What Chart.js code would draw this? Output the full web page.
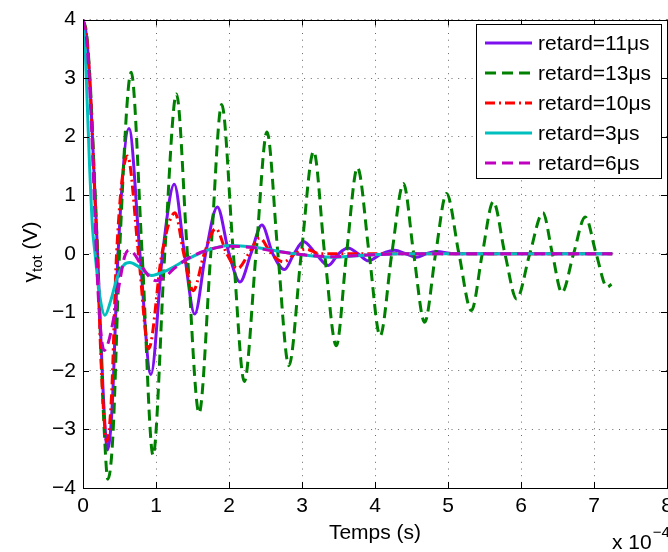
<!DOCTYPE html>
<html>
<head>
<meta charset="utf-8">
<script src="https://cdn.jsdelivr.net/npm/chart.js@4/dist/chart.umd.min.js"></script>
<style>
html,body{margin:0;padding:0;overflow:hidden;background:#fff;}
#c{display:block;}
</style>
</head>
<body>
<canvas id="c" width="700" height="552" style="width:700px;height:552px"></canvas>
<script>
// ---- data (time in units of 1e-4 s, voltage in V) ----
const xTicks = [0, 1, 2, 3, 4, 5, 6, 7, 8];
const yTicks = [-4, -3, -2, -1, 0, 1, 2, 3, 4];
const seriesNames = ['retard=11\u03bcs', 'retard=13\u03bcs', 'retard=10\u03bcs', 'retard=3\u03bcs', 'retard=6\u03bcs'];

const t11 = [0,0.05,0.10,0.15,0.20,0.25,0.29,0.335,0.40,0.48,0.63,0.78,0.93,1.09,1.25,1.39,1.53,1.68,1.84,2.00,2.15,2.30,2.45,2.60,2.76,2.89,3.02,3.19,3.36,3.50,3.63,3.77,3.91,4.09,4.27,4.42,4.57,4.70,4.84,5.10,7.25];
const v11 = [4,3.7,2.8,1.4,0,-1.6,-2.7,-3.35,-2.6,0,2.14,0,-2.06,0,1.19,0,-1.03,0,0.80,0,-0.48,0,0.49,0,-0.27,0,0.21,0,-0.20,0,0.10,0,-0.12,0,0.06,0,-0.06,0,0.04,0,0];

const t13 = [0,0.05,0.10,0.15,0.20,0.25,0.29,0.34,0.41,0.50,0.66,0.81,0.96,1.12,1.28,1.43,1.59,1.75,1.90,2.06,2.21,2.37,2.52,2.67,2.82,2.99,3.16,3.31,3.47,3.61,3.76,3.92,4.07,4.23,4.39,4.53,4.68,4.83,4.98,5.15,5.32,5.47,5.62,5.78,5.94,6.12,6.30,6.43,6.56,6.72,6.88,7.03,7.18,7.24];
const v13 = [4,3.75,2.9,1.5,0,-1.8,-3.0,-3.85,-3.1,0,3.10,0,-3.44,0,2.73,0,-2.72,0,2.55,0,-2.18,0,2.08,0,-1.91,0,1.75,0,-1.57,0,1.47,0,-1.40,0,1.20,0,-1.17,0,1.03,0,-0.97,0,0.89,0,-0.77,0,0.70,0,-0.66,0,0.63,0,-0.57,-0.52];

const t10 = [0,0.05,0.10,0.15,0.195,0.24,0.28,0.325,0.39,0.46,0.61,0.76,0.90,1.08,1.26,1.38,1.51,1.66,1.82,1.97,2.12,2.27,2.42,2.58,2.75,2.90,3.05,3.25,7.25];
const v10 = [4,3.7,2.8,1.35,0,-1.6,-2.65,-3.2,-2.45,0,1.67,0,-1.62,0,0.70,0,-0.63,0,0.43,0,-0.25,0,0.27,0,-0.14,0,0.08,0,0];

const t3 = [0,0.03,0.06,0.09,0.13,0.165,0.23,0.30,0.38,0.47,0.56,0.64,0.75,0.94,1.12,1.42,1.70,2.02,2.35,2.60,2.90,3.40,3.90,4.40,7.25];
const v3 = [4,3.5,2.5,1.5,0.45,0,-0.72,-1.05,-0.8,-0.4,-0.19,-0.15,-0.21,-0.37,-0.3,-0.1,0.06,0.14,0.11,0.06,0.0,-0.06,-0.02,0,0];

const t6 = [0,0.05,0.10,0.15,0.20,0.245,0.29,0.35,0.42,0.50,0.57,0.63,0.70,0.80,0.90,1.00,1.12,1.25,1.45,1.70,2.00,2.30,2.60,2.90,3.40,3.90,4.40,7.25];
const v6 = [4,3.65,2.65,1.1,-0.5,-1.35,-1.65,-1.5,-1.1,-0.5,-0.05,0.06,0.0,-0.2,-0.38,-0.46,-0.4,-0.25,-0.07,0.06,0.13,0.11,0.05,0.0,-0.05,-0.02,0,0];

// ---- styling ----
const FONT = '"Liberation Sans", Arial, Helvetica, sans-serif';
const pts = (ts, vs) => ts.map((t, i) => ({x: t, y: vs[i]}));

const mk = (label, ts, vs, color, dash, order) => ({
  label, data: pts(ts, vs), borderColor: color, backgroundColor: color,
  borderWidth: 3, borderDash: dash, pointRadius: 0, fill: false,
  cubicInterpolationMode: 'monotone', order
});

const datasets = [
  mk(seriesNames[0], t11, v11, '#7d10ee', [], 5),
  mk(seriesNames[1], t13, v13, '#008000', [11, 6], 4),
  mk(seriesNames[2], t10, v10, '#ff0000', [10, 4, 2, 4], 3),
  mk(seriesNames[3], t3, v3, '#00bfbf', [], 2),
  mk(seriesNames[4], t6, v6, '#bf00bf', [11, 6], 1)
];

const decor = {
  id: 'decor',
  afterDraw(chart) {
    const {ctx, chartArea: a, scales: {x, y}} = chart;
    ctx.save();
    ctx.setLineDash([]);
    ctx.strokeStyle = '#000';
    ctx.lineWidth = 1;
    // inward tick marks on all four sides
    ctx.beginPath();
    xTicks.forEach(v => {
      const px = Math.round(x.getPixelForValue(v)) + 0.5;
      ctx.moveTo(px, a.bottom); ctx.lineTo(px, a.bottom - 6);
      ctx.moveTo(px, a.top); ctx.lineTo(px, a.top + 6);
    });
    yTicks.forEach(v => {
      const py = Math.round(y.getPixelForValue(v)) + 0.5;
      ctx.moveTo(a.left, py); ctx.lineTo(a.left + 6, py);
      ctx.moveTo(a.right, py); ctx.lineTo(a.right - 6, py);
    });
    ctx.stroke();
    // axes box
    ctx.strokeRect(Math.round(a.left) + 0.5, Math.round(a.top) + 0.5,
                   Math.round(a.right - a.left), Math.round(a.bottom - a.top));

    // legend
    const lx = 476, ly = 24, lw = 185, lh = 154;
    ctx.fillStyle = '#fff';
    ctx.fillRect(lx, ly, lw, lh);
    ctx.strokeStyle = '#000';
    ctx.lineWidth = 1;
    ctx.strokeRect(lx + 0.5, ly + 0.5, lw, lh);
    chart.data.datasets.forEach((ds, i) => {
      const yy = 43 + 30 * i;
      ctx.strokeStyle = ds.borderColor;
      ctx.lineWidth = ds.borderWidth;
      ctx.setLineDash(ds.borderDash || []);
      ctx.beginPath(); ctx.moveTo(485, yy); ctx.lineTo(532, yy); ctx.stroke();
      ctx.setLineDash([]);
      ctx.fillStyle = '#000';
      ctx.font = '21px ' + FONT;
      ctx.textAlign = 'left';
      ctx.textBaseline = 'alphabetic';
      ctx.fillText(ds.label, 538, yy + 7);
    });

    // x axis title
    ctx.fillStyle = '#000';
    ctx.font = '21px ' + FONT;
    ctx.textAlign = 'center';
    ctx.textBaseline = 'alphabetic';
    ctx.fillText('Temps (s)', (a.left + a.right) / 2, 539);

    // exponent label
    ctx.textAlign = 'left';
    ctx.font = '21px ' + FONT;
    const base = 'x 10';
    ctx.fillText(base, 612, 549);
    const bw = ctx.measureText(base).width;
    ctx.font = '15px ' + FONT;
    ctx.fillText('\u22124', 612 + bw + 1, 537);

    // y axis title: gamma_tot (V)
    ctx.font = '21px ' + FONT;
    const w1 = ctx.measureText('\u03b3').width;
    const w3 = ctx.measureText(' (V)').width;
    ctx.font = '15px ' + FONT;
    const w2 = ctx.measureText('tot').width;
    const total = w1 + w2 + w3;
    ctx.translate(37, 252 + total / 2);
    ctx.rotate(-Math.PI / 2);
    ctx.textAlign = 'left';
    ctx.font = '21px ' + FONT;
    ctx.fillText('\u03b3', 0, 0);
    ctx.font = '15px ' + FONT;
    ctx.fillText('tot', w1, 5);
    ctx.font = '21px ' + FONT;
    ctx.fillText(' (V)', w1 + w2, 0);
    ctx.restore();
  }
};

const gridCommon = {color: 'rgba(0,0,0,0.6)', lineWidth: 1, drawTicks: false};

new Chart(document.getElementById('c'), {
  type: 'line',
  data: {datasets},
  plugins: [decor],
  options: {
    responsive: false,
    animation: false,
    events: [],
    layout: {padding: {left: 0, top: 18, right: 33, bottom: 0}},
    plugins: {legend: {display: false}, tooltip: {enabled: false}, title: {display: false}},
    scales: {
      x: {
        type: 'linear', min: 0, max: 8,
        afterFit: s => { s.height = 64; },
        afterBuildTicks: s => { s.ticks = xTicks.map(v => ({value: v})); },
        ticks: {font: {size: 21, family: FONT}, color: '#000', padding: 6, maxRotation: 0, autoSkip: false,
                callback: v => String(v)},
        grid: gridCommon,
        border: {display: false, dash: [1, 5.7]}
      },
      y: {
        type: 'linear', min: -4, max: 4,
        afterFit: s => { s.width = 83; },
        afterBuildTicks: s => { s.ticks = yTicks.map(v => ({value: v})); },
        ticks: {font: {size: 21, family: FONT}, color: '#000', padding: 7, autoSkip: false,
                callback: v => (v < 0 ? '\u2212' + Math.abs(v) : String(v))},
        grid: gridCommon,
        border: {display: false, dash: [1, 5.7]}
      }
    }
  }
});
</script>
</body>
</html>
